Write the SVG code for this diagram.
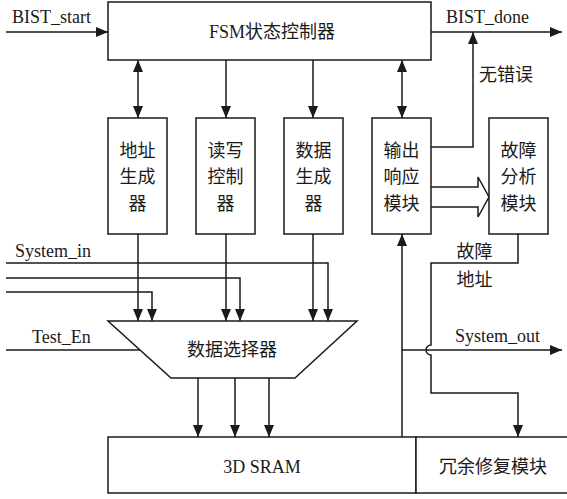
<svg xmlns="http://www.w3.org/2000/svg" width="567" height="499" viewBox="0 0 567 499">
<defs>
<style>
.box{fill:#fff;stroke:#1a1a1a;stroke-width:1.5}
.ln{fill:none;stroke:#1a1a1a;stroke-width:1.5}
.arr{marker-end:url(#ah)}
.bi{marker-start:url(#ahs);marker-end:url(#ah)}
.cn{font-family:"Noto Sans CJK SC","Liberation Serif",serif;font-size:18px;fill:#1a1a1a;text-anchor:middle}
.lt{font-family:"Liberation Serif","Noto Sans CJK SC",serif;font-size:18px;fill:#1a1a1a}
</style>
<marker id="ah" markerUnits="userSpaceOnUse" markerWidth="12" markerHeight="10" viewBox="0 0 12 10" refX="12" refY="5" orient="auto">
<path d="M0,0 L12,5 L0,10 z" fill="#1a1a1a"/>
</marker>
<marker id="ahs" markerUnits="userSpaceOnUse" markerWidth="12" markerHeight="10" viewBox="0 0 12 10" refX="0" refY="5" orient="auto">
<path d="M12,0 L0,5 L12,10 z" fill="#1a1a1a"/>
</marker>
</defs>
<rect width="567" height="499" fill="#fff"/>

<g id="connectors">
<path class="ln arr" d="M6,32 H108"/>
<path class="ln arr" d="M431,32 H562"/>
<path class="ln arr" d="M431,147 H473 V32"/>
<path class="ln bi" d="M138,60 V118"/>
<path class="ln arr" d="M226,60 V118"/>
<path class="ln arr" d="M313,60 V118"/>
<path class="ln bi" d="M402,60 V118"/>
<path class="ln arr" d="M138,234 V321"/>
<path class="ln arr" d="M226,234 V321"/>
<path class="ln arr" d="M313,234 V321"/>
<path class="ln arr" d="M6,263 H328 V321"/>
<path class="ln arr" d="M6,278 H240 V321"/>
<path class="ln arr" d="M6,292 H152 V321"/>
<path class="ln" d="M6,350 H140"/>
<path class="ln arr" d="M198,378 V437"/>
<path class="ln arr" d="M235,378 V437"/>
<path class="ln arr" d="M269,378 V437"/>
<path class="ln arr" d="M402,437 V234"/>
<path class="ln arr" d="M402,350 H562"/>
<path class="ln arr" d="M518,234 V263 H431 V345 A5,5 0 0 0 431,355 V393 H518 V437"/>
<path class="box" d="M431,187 H478 V177 L489,197 L478,217 V207 H431"/>
</g>

<g id="fsm">
<rect class="box" x="108" y="2" width="323" height="58"/>
<text class="cn" x="272" y="38"><tspan font-family="Liberation Serif, serif">FSM</tspan>状态控制器</text>
</g>

<g id="addr">
<rect class="box" x="108" y="118" width="59" height="116"/>
<text class="cn" x="137.5" y="157">地址</text>
<text class="cn" x="137.5" y="183">生成</text>
<text class="cn" x="137.5" y="210">器</text>
</g>

<g id="rw">
<rect class="box" x="196" y="118" width="59" height="116"/>
<text class="cn" x="225.5" y="157">读写</text>
<text class="cn" x="225.5" y="183">控制</text>
<text class="cn" x="225.5" y="210">器</text>
</g>

<g id="datagen">
<rect class="box" x="284" y="118" width="59" height="116"/>
<text class="cn" x="313.5" y="157">数据</text>
<text class="cn" x="313.5" y="183">生成</text>
<text class="cn" x="313.5" y="210">器</text>
</g>

<g id="outresp">
<rect class="box" x="372" y="118" width="59" height="116"/>
<text class="cn" x="401.5" y="157">输出</text>
<text class="cn" x="401.5" y="183">响应</text>
<text class="cn" x="401.5" y="210">模块</text>
</g>

<g id="fault">
<rect class="box" x="489" y="118" width="59" height="116"/>
<text class="cn" x="518.5" y="157">故障</text>
<text class="cn" x="518.5" y="183">分析</text>
<text class="cn" x="518.5" y="210">模块</text>
</g>

<g id="mux">
<polygon class="box" points="108,321 357,321 295,378 171,378"/>
<text class="cn" x="232" y="356">数据选择器</text>
</g>

<g id="sram">
<rect class="box" x="108" y="437" width="308" height="56"/>
<text class="lt" x="262" y="473" text-anchor="middle">3D SRAM</text>
</g>

<g id="repair">
<rect class="box" x="416" y="437" width="170" height="56"/>
<text class="cn" x="493" y="473" font-size="19">冗余修复模块</text>
</g>

<g id="labels">
<text class="lt" x="12" y="23">BIST_start</text>
<text class="lt" x="446" y="23">BIST_done</text>
<text class="cn" x="506" y="81">无错误</text>
<text class="lt" x="15" y="257">System_in</text>
<text class="lt" x="32" y="343">Test_En</text>
<text class="lt" x="455" y="342">System_out</text>
<text class="cn" x="474.5" y="258">故障</text>
<text class="cn" x="474.5" y="286">地址</text>
</g>
</svg>
